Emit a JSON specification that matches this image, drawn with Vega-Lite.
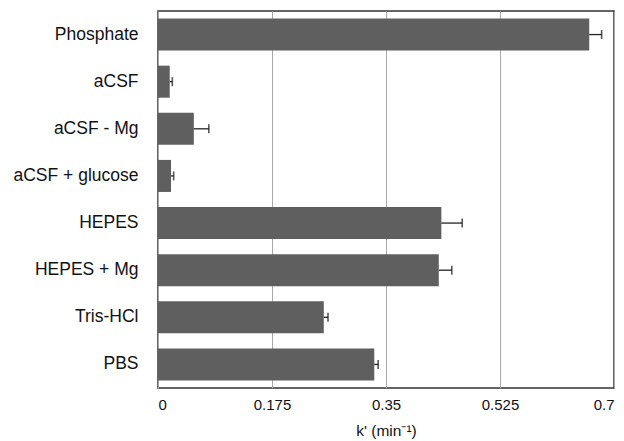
{
  "$schema": "https://vega.github.io/schema/vega-lite/v6.json",
  "autosize": "none",
  "width": 456,
  "height": 377,
  "padding": {"left": 158, "top": 11, "right": 10, "bottom": 53},
  "background": "white",
  "config": {
    "font": "Liberation Sans",
    "view": {"stroke": "#333333", "strokeWidth": 1.5}
  },
  "data": {
    "values": [
      {"buffer": "Phosphate", "k": 0.662, "hi": 0.681},
      {"buffer": "aCSF", "k": 0.018, "hi": 0.022},
      {"buffer": "aCSF - Mg", "k": 0.055, "hi": 0.078},
      {"buffer": "aCSF + glucose", "k": 0.020, "hi": 0.024},
      {"buffer": "HEPES", "k": 0.435, "hi": 0.467},
      {"buffer": "HEPES + Mg", "k": 0.431, "hi": 0.451},
      {"buffer": "Tris-HCl", "k": 0.2545, "hi": 0.261},
      {"buffer": "PBS", "k": 0.332, "hi": 0.338}
    ]
  },
  "encoding": {
    "y": {
      "field": "buffer",
      "type": "nominal",
      "sort": null,
      "scale": {"paddingInner": 0.32, "paddingOuter": 0.16},
      "axis": {
        "title": null,
        "ticks": false,
        "domain": false,
        "labelPadding": 20,
        "labelFontSize": 17.5,
        "labelColor": "#111111",
        "labelFont": "Liberation Sans"
      }
    }
  },
  "layer": [
    {
      "mark": {"type": "bar", "color": "#5f5f5f"},
      "encoding": {
        "x": {
          "field": "k",
          "type": "quantitative",
          "scale": {"domain": [0, 0.7], "nice": false},
          "axis": {
            "values": [0, 0.175, 0.35, 0.525, 0.7],
            "format": ".3~f",
            "title": "k' (min⁻¹)",
            "titleFontWeight": "normal",
            "titleFontSize": 15.5,
            "titleColor": "#111111",
            "titlePadding": 11,
            "labelFontSize": 15,
            "labelColor": "#111111",
            "labelPadding": 9,
            "ticks": false,
            "domain": false,
            "grid": true,
            "gridColor": "#a8a8a8",
            "gridWidth": 1
          }
        }
      }
    },
    {
      "mark": {"type": "rule", "color": "#222222", "strokeWidth": 1.3},
      "encoding": {
        "x": {"field": "k", "type": "quantitative"},
        "x2": {"field": "hi"}
      }
    },
    {
      "mark": {"type": "tick", "color": "#111111", "thickness": 1.6, "size": 9, "orient": "vertical"},
      "encoding": {
        "x": {"field": "hi", "type": "quantitative"}
      }
    }
  ]
}
